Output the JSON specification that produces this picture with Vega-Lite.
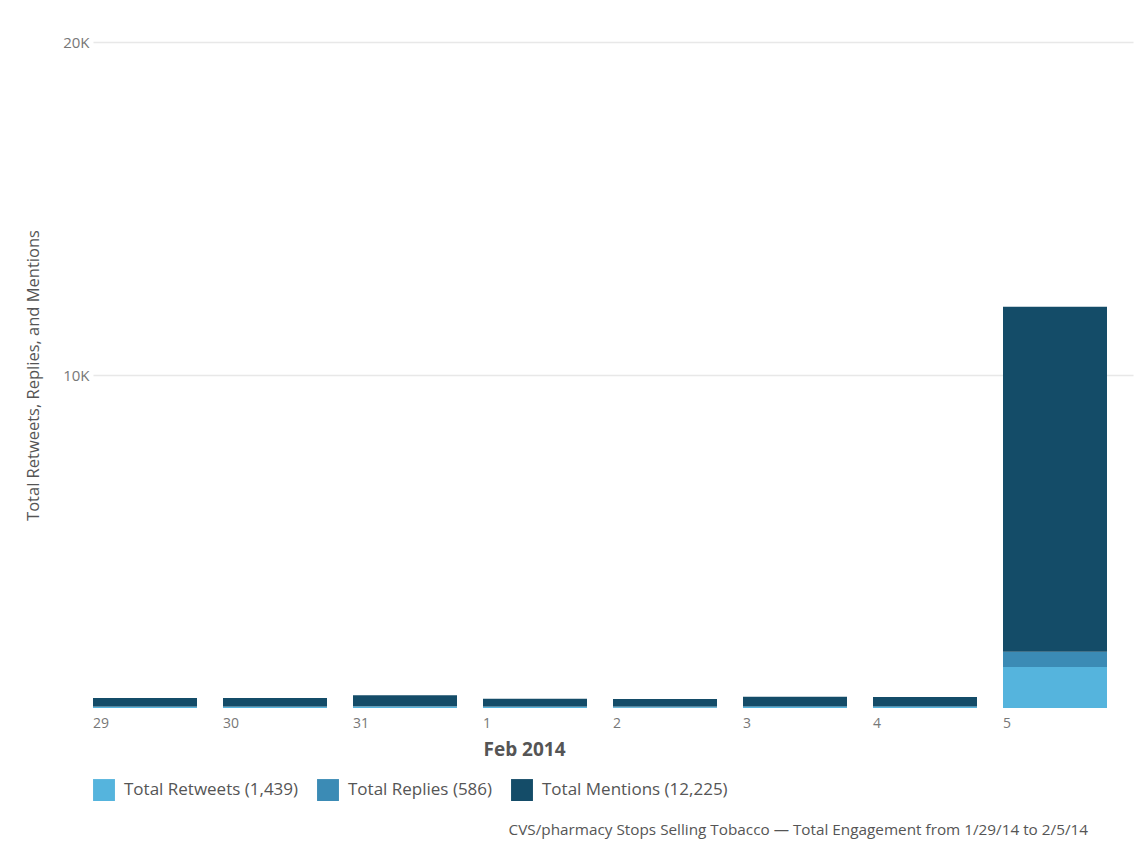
{
  "$schema": "https://vega.github.io/schema/vega-lite/v6.json",
  "autosize": "none",
  "width": 1040,
  "height": 666,
  "padding": {"left": 93, "top": 42, "right": 15, "bottom": 150},
  "background": "white",
  "config": {
    "font": "Open Sans",
    "view": {"stroke": null},
    "axis": {"labelColor": "#777", "titleColor": "#666", "labelFont": "Open Sans", "titleFont": "Open Sans"}
  },
  "title": {
    "text": "CVS/pharmacy Stops Selling Tobacco — Total Engagement from 1/29/14 to 2/5/14",
    "orient": "bottom",
    "anchor": "end",
    "fontSize": 15.3,
    "fontWeight": "normal",
    "color": "#555",
    "offset": 22,
    "dx": -45
  },
  "data": {
    "values": [
      {"day": "29", "order": 1, "series": "Total Retweets (1,439)", "value": 30},
      {"day": "29", "order": 2, "series": "Total Replies (586)", "value": 18},
      {"day": "29", "order": 3, "series": "Total Mentions (12,225)", "value": 252},
      {"day": "30", "order": 1, "series": "Total Retweets (1,439)", "value": 28},
      {"day": "30", "order": 2, "series": "Total Replies (586)", "value": 17},
      {"day": "30", "order": 3, "series": "Total Mentions (12,225)", "value": 255},
      {"day": "31", "order": 1, "series": "Total Retweets (1,439)", "value": 35},
      {"day": "31", "order": 2, "series": "Total Replies (586)", "value": 20},
      {"day": "31", "order": 3, "series": "Total Mentions (12,225)", "value": 325},
      {"day": "1", "order": 1, "series": "Total Retweets (1,439)", "value": 27},
      {"day": "1", "order": 2, "series": "Total Replies (586)", "value": 18},
      {"day": "1", "order": 3, "series": "Total Mentions (12,225)", "value": 235},
      {"day": "2", "order": 1, "series": "Total Retweets (1,439)", "value": 26},
      {"day": "2", "order": 2, "series": "Total Replies (586)", "value": 16},
      {"day": "2", "order": 3, "series": "Total Mentions (12,225)", "value": 228},
      {"day": "3", "order": 1, "series": "Total Retweets (1,439)", "value": 32},
      {"day": "3", "order": 2, "series": "Total Replies (586)", "value": 19},
      {"day": "3", "order": 3, "series": "Total Mentions (12,225)", "value": 289},
      {"day": "4", "order": 1, "series": "Total Retweets (1,439)", "value": 32},
      {"day": "4", "order": 2, "series": "Total Replies (586)", "value": 18},
      {"day": "4", "order": 3, "series": "Total Mentions (12,225)", "value": 280},
      {"day": "5", "order": 1, "series": "Total Retweets (1,439)", "value": 1229},
      {"day": "5", "order": 2, "series": "Total Replies (586)", "value": 460},
      {"day": "5", "order": 3, "series": "Total Mentions (12,225)", "value": 10361}
    ]
  },
  "mark": {"type": "bar"},
  "encoding": {
    "x": {
      "field": "day",
      "type": "nominal",
      "sort": ["29", "30", "31", "1", "2", "3", "4", "5"],
      "scale": {"paddingInner": 0.2, "paddingOuter": 0.1, "align": 0},
      "axis": {
        "title": "Feb 2014",
        "titleFontSize": 19,
        "titleFontWeight": "bold",
        "titleColor": "#555",
        "titleAnchor": "start",
        "titleX": 390,
        "titleY": 32,
        "labelAlign": "left",
        "labelOffset": -52,
        "labelAngle": 0,
        "labelFontSize": 14,
        "labelPadding": 8,
        "ticks": false,
        "domain": false,
        "grid": false
      }
    },
    "y": {
      "field": "value",
      "type": "quantitative",
      "stack": "zero",
      "scale": {"domain": [0, 20000]},
      "axis": {
        "values": [10000, 20000],
        "labelExpr": "(datum.value / 1000) + 'K'",
        "labelFontSize": 15,
        "labelPadding": 4,
        "ticks": false,
        "domain": false,
        "grid": true,
        "gridColor": "#e8e8e8",
        "gridWidth": 1.5,
        "title": "Total Retweets, Replies, and Mentions",
        "titleFontSize": 16.5,
        "titleFontWeight": "normal",
        "titleColor": "#555",
        "titleX": -52
      }
    },
    "color": {
      "field": "series",
      "type": "nominal",
      "sort": ["Total Retweets (1,439)", "Total Replies (586)", "Total Mentions (12,225)"],
      "scale": {
        "domain": ["Total Retweets (1,439)", "Total Replies (586)", "Total Mentions (12,225)"],
        "range": ["#55b4dd", "#3b8bb5", "#144c68"]
      },
      "legend": {
        "title": null,
        "orient": "none",
        "direction": "horizontal",
        "legendX": 0,
        "legendY": 737,
        "symbolType": "square",
        "symbolSize": 480,
        "symbolStrokeWidth": 0,
        "symbolOpacity": 1,
        "labelFontSize": 17,
        "labelLimit": 400,
        "labelColor": "#555",
        "labelOffset": 9,
        "columnPadding": 18
      }
    },
    "order": {"field": "order", "type": "quantitative"}
  }
}
